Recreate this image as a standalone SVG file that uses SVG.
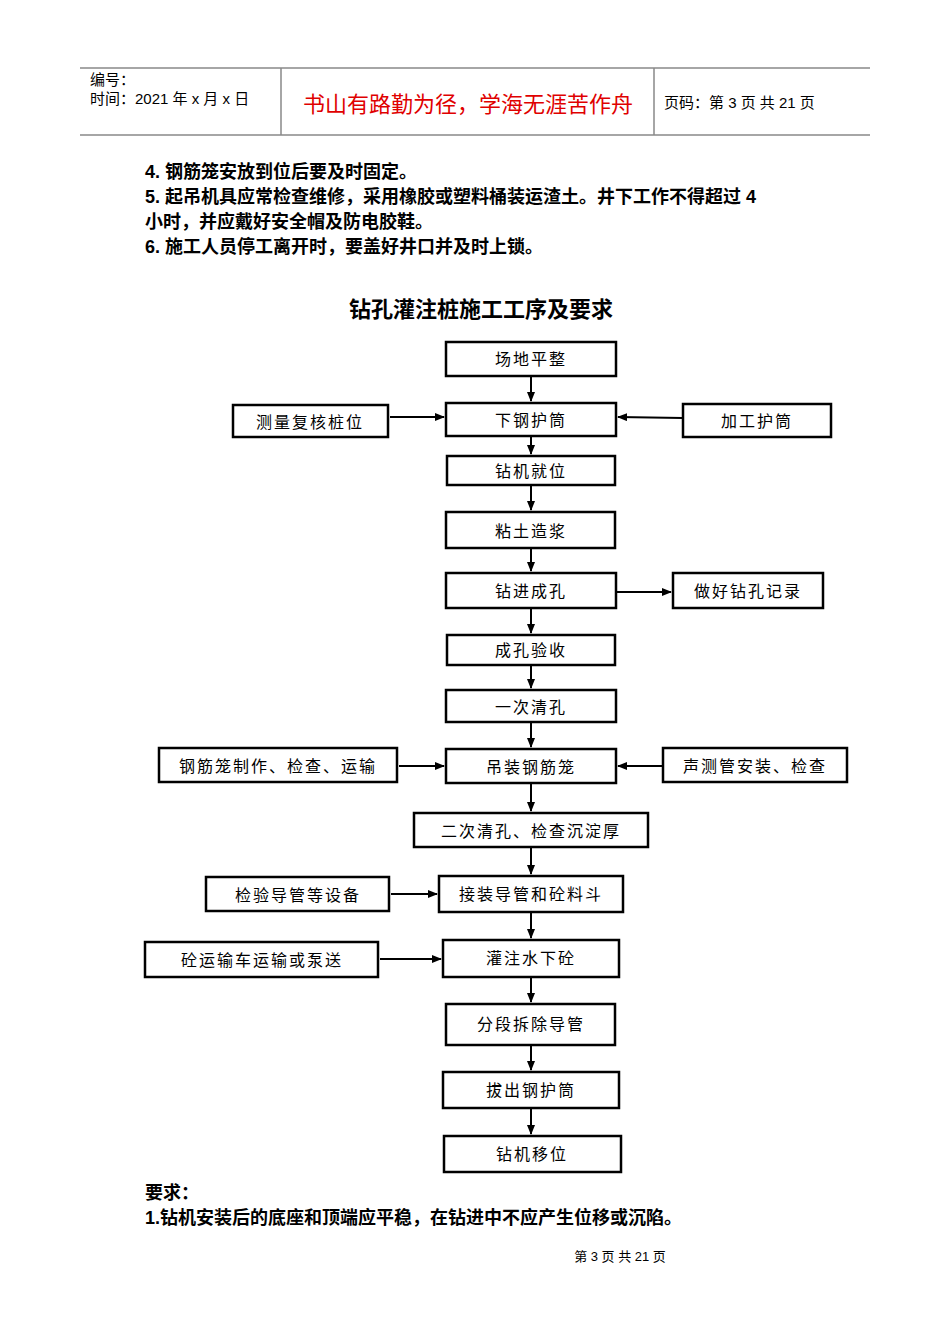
<svg xmlns="http://www.w3.org/2000/svg" width="950" height="1344" viewBox="0 0 950 1344">
<style>
.t{font-family:"Liberation Sans","Noto Sans CJK SC",sans-serif;fill:#000}
.b rect{fill:#fff;stroke:#000;stroke-width:2.5}
.b text{font-family:"Noto Sans CJK SC",sans-serif;font-size:16px;text-anchor:middle;letter-spacing:2px}
.c line{stroke:#000;stroke-width:2}
</style>
<defs><marker id="a" markerWidth="10" markerHeight="8" refX="9" refY="4" orient="auto" markerUnits="userSpaceOnUse"><path d="M0,0L10,4L0,8z" fill="#000"/></marker></defs>
<rect width="950" height="1344" fill="#fff"/>
<g stroke="#888" stroke-width="1.5"><line x1="80" y1="68" x2="870" y2="68"/><line x1="80" y1="135" x2="870" y2="135"/><line x1="281" y1="68" x2="281" y2="135"/><line x1="654" y1="68" x2="654" y2="135"/></g>
<text class="t" x="90" y="85" font-size="15">编号：</text>
<text class="t" x="90" y="104" font-size="15">时间：2021 年 x 月 x 日</text>
<text class="t" x="468" y="112" font-size="22" text-anchor="middle" style="fill:#e00000">书山有路勤为径，学海无涯苦作舟</text>
<text class="t" x="664" y="108" font-size="15">页码：第 3 页  共 21 页</text>
<g class="t" font-size="18" font-weight="bold">
<text x="145" y="178">4.  钢筋笼安放到位后要及时固定。</text>
<text x="145" y="203">5.  起吊机具应常检查维修，采用橡胶或塑料桶装运渣土。井下工作不得超过 4</text>
<text x="145" y="228">小时，并应戴好安全帽及防电胶鞋。</text>
<text x="145" y="253">6.  施工人员停工离开时，要盖好井口并及时上锁。</text>
</g>
<text class="t" x="481" y="317" font-size="22" font-weight="bold" text-anchor="middle">钻孔灌注桩施工工序及要求</text>
<g class="c">
<line x1="531" y1="376" x2="531" y2="401" marker-end="url(#a)"/>
<line x1="531" y1="436" x2="531" y2="454" marker-end="url(#a)"/>
<line x1="531" y1="485" x2="531" y2="510" marker-end="url(#a)"/>
<line x1="531" y1="548" x2="531" y2="571" marker-end="url(#a)"/>
<line x1="531" y1="608" x2="531" y2="633" marker-end="url(#a)"/>
<line x1="531" y1="665" x2="531" y2="688" marker-end="url(#a)"/>
<line x1="531" y1="722" x2="531" y2="747" marker-end="url(#a)"/>
<line x1="531" y1="783" x2="531" y2="811" marker-end="url(#a)"/>
<line x1="531" y1="847" x2="531" y2="874" marker-end="url(#a)"/>
<line x1="531" y1="912" x2="531" y2="938" marker-end="url(#a)"/>
<line x1="531" y1="977" x2="531" y2="1002" marker-end="url(#a)"/>
<line x1="531" y1="1045" x2="531" y2="1070" marker-end="url(#a)"/>
<line x1="531" y1="1108" x2="531" y2="1134" marker-end="url(#a)"/>
<line x1="390" y1="417" x2="444" y2="417" marker-end="url(#a)"/>
<line x1="683" y1="418" x2="618" y2="417" marker-end="url(#a)"/>
<line x1="616" y1="592" x2="671" y2="592" marker-end="url(#a)"/>
<line x1="399" y1="766" x2="444" y2="766" marker-end="url(#a)"/>
<line x1="663" y1="766" x2="618" y2="766" marker-end="url(#a)"/>
<line x1="391" y1="894" x2="437" y2="894" marker-end="url(#a)"/>
<line x1="380" y1="959" x2="441" y2="959" marker-end="url(#a)"/>
</g>
<g class="b" id="n1"><rect x="446" y="342" width="170" height="34"/><text x="531" y="365">场地平整</text></g>
<g class="b" id="n2"><rect x="446" y="403" width="170" height="33"/><text x="531" y="426">下钢护筒</text></g>
<g class="b" id="n3"><rect x="233" y="405" width="155" height="32"/><text x="310" y="428">测量复核桩位</text></g>
<g class="b" id="n4"><rect x="683" y="404" width="148" height="33"/><text x="757" y="427">加工护筒</text></g>
<g class="b" id="n5"><rect x="447" y="456" width="168" height="29"/><text x="531" y="477">钻机就位</text></g>
<g class="b" id="n6"><rect x="446" y="512" width="169" height="36"/><text x="531" y="537">粘土造浆</text></g>
<g class="b" id="n7"><rect x="446" y="573" width="170" height="35"/><text x="531" y="597">钻进成孔</text></g>
<g class="b" id="n8"><rect x="673" y="573" width="150" height="35"/><text x="748" y="597">做好钻孔记录</text></g>
<g class="b" id="n9"><rect x="447" y="635" width="168" height="30"/><text x="531" y="656">成孔验收</text></g>
<g class="b" id="n10"><rect x="446" y="690" width="170" height="32"/><text x="531" y="713">一次清孔</text></g>
<g class="b" id="n11"><rect x="446" y="749" width="170" height="34"/><text x="531" y="773">吊装钢筋笼</text></g>
<g class="b" id="n12"><rect x="159" y="748" width="238" height="34"/><text x="278" y="772">钢筋笼制作、检查、运输</text></g>
<g class="b" id="n13"><rect x="663" y="748" width="184" height="34"/><text x="755" y="772">声测管安装、检查</text></g>
<g class="b" id="n14"><rect x="414" y="813" width="234" height="34"/><text x="531" y="837">二次清孔、检查沉淀厚</text></g>
<g class="b" id="n15"><rect x="206" y="877" width="183" height="34"/><text x="298" y="901">检验导管等设备</text></g>
<g class="b" id="n16"><rect x="439" y="876" width="184" height="36"/><text x="531" y="900">接装导管和砼料斗</text></g>
<g class="b" id="n17"><rect x="145" y="942" width="233" height="35"/><text x="262" y="966">砼运输车运输或泵送</text></g>
<g class="b" id="n18"><rect x="443" y="940" width="176" height="37"/><text x="531" y="964">灌注水下砼</text></g>
<g class="b" id="n19"><rect x="446" y="1004" width="169" height="41"/><text x="531" y="1030">分段拆除导管</text></g>
<g class="b" id="n20"><rect x="443" y="1072" width="176" height="36"/><text x="531" y="1096">拔出钢护筒</text></g>
<g class="b" id="n21"><rect x="444" y="1136" width="177" height="36"/><text x="532" y="1160">钻机移位</text></g>
<text class="t" x="145" y="1199" font-size="18" font-weight="bold">要求：</text>
<text class="t" x="145" y="1224" font-size="18" font-weight="bold">1.钻机安装后的底座和顶端应平稳，在钻进中不应产生位移或沉陷。</text>
<text class="t" x="620" y="1261" font-size="13" text-anchor="middle">第  3  页  共  21  页</text>
</svg>
